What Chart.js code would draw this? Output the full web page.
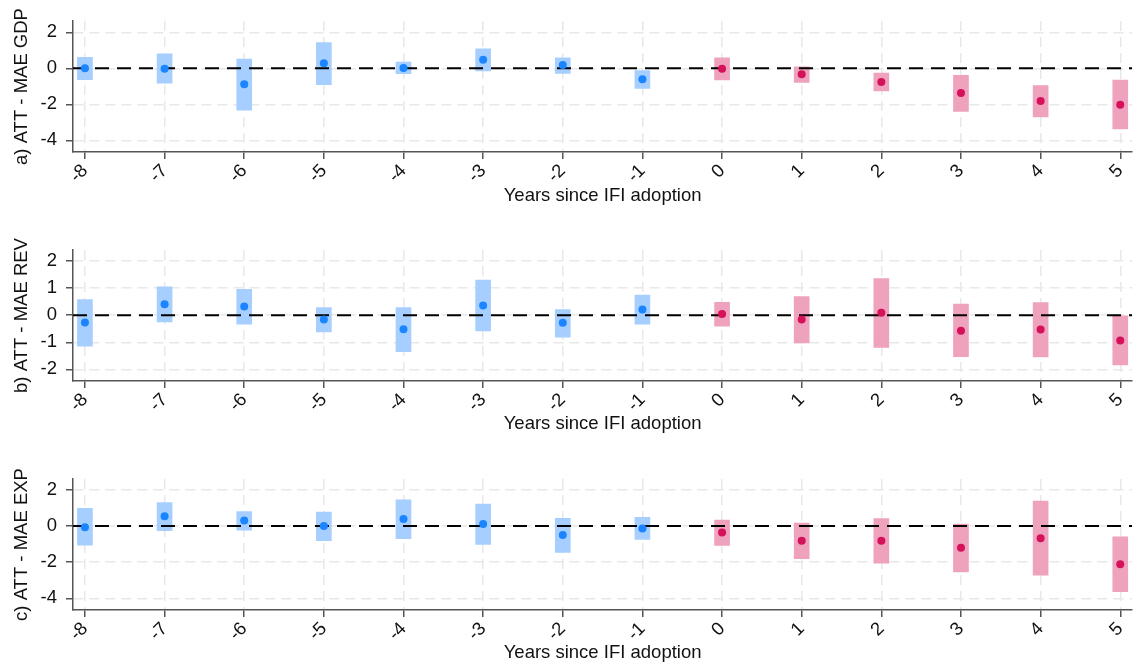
<!DOCTYPE html>
<html>
<head>
<meta charset="utf-8">
<script src="https://cdn.jsdelivr.net/npm/chart.js@4.4.1/dist/chart.umd.min.js"></script>
<style>
  html, body { margin: 0; padding: 0; background: #fff; }
  body { width: 1137px; height: 666px; position: relative; overflow: hidden; }
  .panel { position: absolute; left: 0; width: 1137px; height: 222px; }
</style>
</head>
<body>
<div class="panel" style="top:0px"><canvas id="chartGdp"></canvas></div>
<div class="panel" style="top:222px"><canvas id="chartRev"></canvas></div>
<div class="panel" style="top:444px"><canvas id="chartExp"></canvas></div>

<script>
// event-time axis (years relative to adoption)
const years = [-8, -7, -6, -5, -4, -3, -2, -1, 0, 1, 2, 3, 4, 5];
const xMin = -8.15;
const xMax = 5.15;

// a) GDP forecast error
const gdpEst  = [0.00, -0.02, -0.89, 0.28, 0.02, 0.48, 0.19, -0.61, -0.02, -0.33, -0.76, -1.37, -1.81, -2.02];
const gdpLow  = [-0.63, -0.83, -2.33, -0.91, -0.30, -0.15, -0.28, -1.11, -0.65, -0.78, -1.26, -2.39, -2.70, -3.37];
const gdpHigh = [0.61, 0.81, 0.52, 1.43, 0.35, 1.09, 0.59, -0.13, 0.59, 0.09, -0.26, -0.39, -0.96, -0.65];
const gdpTicks = [-4, -2, 0, 2];

// b) revenue forecast error
const revEst  = [-0.27, 0.41, 0.32, -0.16, -0.52, 0.36, -0.28, 0.21, 0.05, -0.16, 0.09, -0.57, -0.53, -0.93];
const revLow  = [-1.14, -0.25, -0.33, -0.62, -1.35, -0.58, -0.81, -0.33, -0.40, -1.02, -1.19, -1.53, -1.54, -1.84];
const revHigh = [0.58, 1.05, 0.96, 0.28, 0.28, 1.30, 0.21, 0.74, 0.48, 0.69, 1.35, 0.41, 0.47, -0.02];
const revTicks = [-2, -1, 0, 1, 2];

// c) expenditure forecast error
const expEst  = [-0.06, 0.54, 0.31, 0.00, 0.39, 0.11, -0.50, -0.13, -0.35, -0.81, -0.81, -1.20, -0.67, -2.11];
const expLow  = [-1.06, -0.26, -0.22, -0.81, -0.70, -1.02, -1.46, -0.74, -1.07, -1.81, -2.06, -2.54, -2.72, -3.63];
const expHigh = [0.98, 1.31, 0.81, 0.78, 1.46, 1.22, 0.43, 0.48, 0.33, 0.17, 0.41, 0.11, 1.38, -0.59];
const expTicks = [-4, -2, 0, 2];

const BLUE = '#1A85FF';
const RED = '#D41159';
const BLUE_CI = '#a6cfff';   // 40% tint of BLUE
const RED_CI = '#eea2bd';    // 40% tint of RED
const AXIS = '#555';
const GRID = '#e8e8e8';

Chart.defaults.font.family = "'Liberation Sans', Arial, sans-serif";
Chart.defaults.font.size = 18.5;
Chart.defaults.color = '#111';

// split one series into pre (t < 0) and post (t >= 0) periods
function pick(arr, post) {
    return years.map((t, i) => ({ t, v: arr[i] })).filter(d => (d.t >= 0) === post);
}

function makePanel(id, cfg) {
    const ciData = post => years
        .map((t, i) => ({ x: t, y: [cfg.low[i], cfg.high[i]] }))
        .filter(d => (d.x >= 0) === post);
    const estData = post => pick(cfg.est, post).map(d => ({ x: d.t, y: d.v }));

    new Chart(document.getElementById(id), {
        type: 'bar',
        data: {
            datasets: [
                { data: ciData(false), backgroundColor: BLUE_CI, barThickness: 15, grouped: false, order: 3 },
                { data: ciData(true), backgroundColor: RED_CI, barThickness: 15, grouped: false, order: 3 },
                {
                    type: 'line', data: [{ x: xMin, y: 0 }, { x: xMax, y: 0 }],
                    borderColor: '#000', borderWidth: 2, borderDash: [14, 8],
                    pointRadius: 0, order: 2
                },
                { type: 'scatter', data: estData(false), backgroundColor: BLUE, pointRadius: 4, borderWidth: 0, order: 1 },
                { type: 'scatter', data: estData(true), backgroundColor: RED, pointRadius: 4, borderWidth: 0, order: 1 }
            ]
        },
        options: {
            responsive: true,
            maintainAspectRatio: false,
            animation: false,
            layout: { padding: { top: cfg.padTop, bottom: cfg.padBottom, left: 0, right: 0 } },
            plugins: { legend: { display: false }, tooltip: { enabled: false } },
            scales: {
                x: {
                    type: 'linear',
                    min: xMin,
                    max: xMax,
                    offset: false,
                    afterBuildTicks: scale => { scale.ticks = years.map(v => ({ value: v })); },
                    afterFit: scale => { scale.height = cfg.xHeight; },
                    grid: {
                        offset: false, color: GRID, lineWidth: 1.5,
                        tickLength: 7, tickColor: AXIS, tickWidth: 1.5, tickBorderDash: []
                    },
                    border: { display: true, color: AXIS, width: 1.5, dash: [10, 6] },
                    ticks: { autoSkip: false, minRotation: 45, maxRotation: 45, padding: 1 },
                    title: { display: true, text: 'Years since IFI adoption', padding: { top: 0, bottom: 0 } }
                },
                y: {
                    min: cfg.yMin,
                    max: cfg.yMax,
                    afterBuildTicks: scale => { scale.ticks = cfg.ticks.map(v => ({ value: v })); },
                    afterFit: scale => { scale.width = 73; },
                    grid: {
                        color: GRID, lineWidth: 1.5,
                        tickLength: 7, tickColor: AXIS, tickWidth: 1.5, tickBorderDash: []
                    },
                    border: { display: true, color: AXIS, width: 1.5, dash: [10, 6] },
                    ticks: { padding: 9 },
                    title: { display: true, text: cfg.title, padding: { top: 11, bottom: 0 } }
                }
            }
        }
    });
}

makePanel('chartGdp', {
    est: gdpEst, low: gdpLow, high: gdpHigh, ticks: gdpTicks,
    yMin: -4.65, yMax: 2.63, title: 'a) ATT - MAE GDP',
    padTop: 21, padBottom: 15, xHeight: 55
});
makePanel('chartRev', {
    est: revEst, low: revLow, high: revHigh, ticks: revTicks,
    yMin: -2.43, yMax: 2.41, title: 'b) ATT - MAE REV',
    padTop: 28, padBottom: 9, xHeight: 54
});
makePanel('chartExp', {
    est: expEst, low: expLow, high: expHigh, ticks: expTicks,
    yMin: -4.65, yMax: 2.61, title: 'c) ATT - MAE EXP',
    padTop: 35, padBottom: 2, xHeight: 54
});
</script>
</body>
</html>
